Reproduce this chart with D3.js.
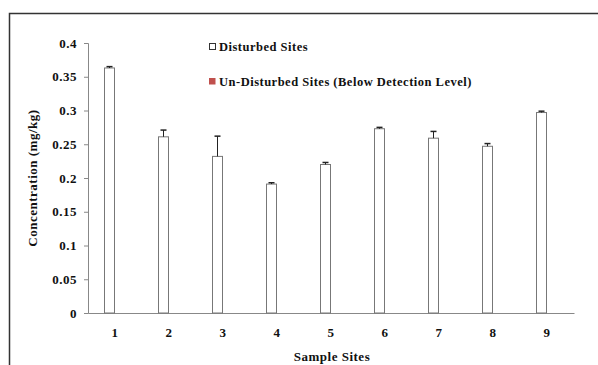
<!DOCTYPE html>
<html>
<head>
<meta charset="utf-8">
<script src="https://cdn.jsdelivr.net/npm/d3@7"></script>
<style>
  body { margin: 0; background: #fff; }
  svg text { font-family: "Liberation Serif", "Times New Roman", serif; font-weight: bold; fill: #111; letter-spacing: 0.5px; }
</style>
</head>
<body>
<svg id="chart" width="598" height="365"></svg>
<script>
// values
var sites = ["1", "2", "3", "4", "5", "6", "7", "8", "9"];
var disturbed = [0.363, 0.261, 0.232, 0.191, 0.220, 0.273, 0.259, 0.247, 0.297];
var disturbedErr = [0.002, 0.010, 0.030, 0.002, 0.003, 0.002, 0.010, 0.004, 0.002];
var undisturbed = [0, 0, 0, 0, 0, 0, 0, 0, 0];
var yTicks = [0, 0.05, 0.1, 0.15, 0.2, 0.25, 0.3, 0.35, 0.4];
var seriesNames = ["Disturbed Sites", "Un-Disturbed Sites (Below Detection Level)"];

var svg = d3.select("#chart");

// outer frame (runs off the right and bottom edges)
svg.append("rect")
  .attr("x", 9.5).attr("y", 13.5)
  .attr("width", 620).attr("height", 400)
  .attr("fill", "none").attr("stroke", "#333").attr("stroke-width", 1.5);

var plotL = 88, plotR = 574, plotT = 43, plotB = 313;

var x = d3.scaleBand().domain(sites).range([plotL, plotR]).padding(0);
var xs = d3.scaleBand().domain([0, 1]).range([0, 22]);
var y = d3.scaleLinear().domain([0, 0.4]).range([plotB, plotT]);

// y axis
var yAxis = d3.axisLeft(y).tickValues(yTicks).tickSize(4).tickPadding(7)
  .tickFormat(function(d) { return d === 0 ? "0" : String(+d.toFixed(2)); });
var gy = svg.append("g").attr("transform", "translate(" + plotL + ",0)").call(yAxis);
gy.select(".domain").attr("stroke", "#888");
gy.selectAll(".tick line").attr("stroke", "#888");
gy.selectAll(".tick text").attr("font-size", 13).attr("font-family", null);

// x axis
var xAxis = d3.axisBottom(x).tickSize(0).tickPadding(15);
var gx = svg.append("g").attr("transform", "translate(0," + plotB + ")").call(xAxis);
gx.select(".domain").attr("stroke", "#888");
gx.selectAll(".tick text").attr("font-size", 13).attr("font-family", null);

// bars
var groups = svg.append("g").selectAll("g")
  .data(sites)
  .enter().append("g")
  .attr("transform", function(d) { return "translate(" + (x(d) + x.bandwidth() / 2 - 11) + ",0)"; });

groups.append("rect")
  .attr("x", xs(0) + 0.5)
  .attr("width", xs.bandwidth() - 1)
  .attr("y", function(d, i) { return y(disturbed[i]); })
  .attr("height", function(d, i) { return plotB - y(disturbed[i]); })
  .attr("fill", "#fff").attr("stroke", "#777").attr("stroke-width", 1);

groups.append("rect")
  .attr("x", xs(1))
  .attr("width", xs.bandwidth())
  .attr("y", function(d, i) { return y(undisturbed[i]); })
  .attr("height", function(d, i) { return plotB - y(undisturbed[i]); })
  .attr("fill", "#c0504d");

// error bars (upper only)
var cx = xs(0) + xs.bandwidth() / 2;
groups.append("line")
  .attr("x1", cx).attr("x2", cx)
  .attr("y1", function(d, i) { return y(disturbed[i]); })
  .attr("y2", function(d, i) { return y(disturbed[i] + disturbedErr[i]); })
  .attr("stroke", "#222").attr("stroke-width", 1);
groups.append("line")
  .attr("x1", cx - 3).attr("x2", cx + 3)
  .attr("y1", function(d, i) { return y(disturbed[i] + disturbedErr[i]); })
  .attr("y2", function(d, i) { return y(disturbed[i] + disturbedErr[i]); })
  .attr("stroke", "#222").attr("stroke-width", 1.5);

// legend
var legend = svg.append("g").attr("transform", "translate(209,43)");
legend.append("rect").attr("x", 0.5).attr("y", 0.5).attr("width", 6).attr("height", 6)
  .attr("fill", "#fff").attr("stroke", "#333").attr("stroke-width", 1);
legend.append("text").attr("x", 10).attr("y", 7.5).attr("font-size", 12.5)
  .attr("letter-spacing", "0.3px").text(seriesNames[0]);
legend.append("rect").attr("x", 0).attr("y", 35).attr("width", 6.5).attr("height", 6.5)
  .attr("fill", "#c0504d");
legend.append("text").attr("x", 10).attr("y", 42.5).attr("font-size", 12.5)
  .attr("letter-spacing", "0.3px").text(seriesNames[1]);

// axis titles
svg.append("text")
  .attr("transform", "translate(37,178) rotate(-90)")
  .attr("text-anchor", "middle").attr("font-size", 13)
  .text("Concentration (mg/kg)");
svg.append("text")
  .attr("x", 332).attr("y", 361)
  .attr("text-anchor", "middle").attr("font-size", 13)
  .text("Sample Sites");
</script>
</body>
</html>
